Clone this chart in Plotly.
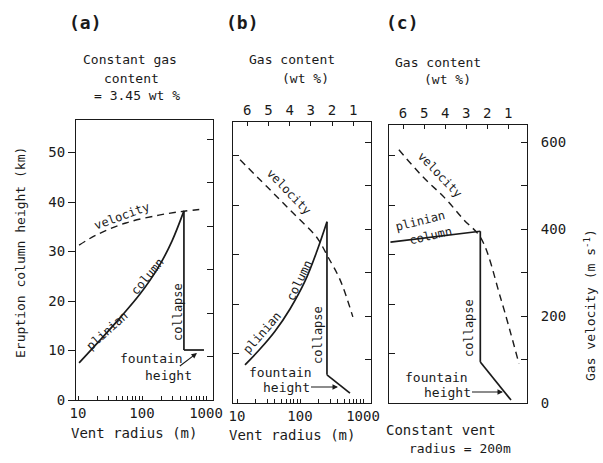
import plotly.graph_objects as go

W, H = 603, 463

# ---------------- data ----------------
# Panel (a): constant gas content 3.45 wt%
a_col_radius = [10.4, 22.1, 45.3, 93, 178, 294, 452]
a_col_height = [7.5, 12.1, 16.6, 21.4, 26.7, 32.1, 38.2]
a_collapse_radius = [452, 452]
a_collapse_height = [38.2, 10.1]
a_fount_radius = [452, 930]
a_fount_height = [10.1, 10.1]
a_vel_radius = [10.4, 19.1, 56, 184, 452, 930]
a_vel_value = [356, 379, 407, 425, 434, 439]

# Panel (b): gas content varies with vent radius
b_col_radius = [13.4, 23.2, 40.1, 69.4, 120, 186, 268]
b_col_height = [7.7, 10.9, 14.5, 19.0, 24.6, 30.7, 36.6]
b_collapse_radius = [268, 268]
b_collapse_height = [36.6, 5.7]
b_fount_radius = [268, 621]
b_fount_height = [5.7, 2.0]
b_vel_radius = [11.2, 30, 69, 173, 207, 278, 433, 690]
b_vel_value = [559, 497, 444, 386, 370, 336, 283, 198]

# Panel (c): constant vent radius 200 m
c_col_gas = [6.6, 2.33]
c_col_height = [32.5, 34.7]
c_collapse_gas = [2.33, 2.33]
c_collapse_height = [34.7, 8.3]
c_fount_gas = [2.33, 0.87]
c_fount_height = [8.3, 0.6]
c_vel_gas = [6.2, 5.06, 4.01, 3.11, 2.30, 1.35, 0.49]
c_vel_value = [582, 520, 471, 421, 379, 239, 90]

# ticks
radius_tickvals = [10, 20, 30, 40, 50, 60, 70, 80, 90, 100, 200, 300, 400, 500,
                   600, 700, 800, 900, 1000]
radius_ticktext = ["10"] + [""] * 8 + ["100"] + [""] * 8 + ["1000"]
height_ticks = [0, 10, 20, 30, 40, 50]
vel_ticks = [0, 100, 200, 300, 400, 500, 600]
vel_ticktext = ["0", "", "200", "", "400", "", "600"]
gas_ticks = [6, 5, 4, 3, 2, 1]

# ---------------- layout helpers ----------------
FONT = "DejaVu Sans Mono"
INK = "#1a1a1a"


def dom_x(x0, x1):
    return [x0 / W, x1 / W]


def dom_y(ybot, ytop):
    return [1 - ybot / H, 1 - ytop / H]


def P(x, y):
    return x / W, 1 - y / H


annotations = []


def ann(text, x, y, angle=0, size=13, **kw):
    px, py = P(x, y)
    d = dict(text=text, x=px, y=py, xref="paper", yref="paper",
             showarrow=False, textangle=angle, xanchor="center",
             yanchor="middle", font=dict(family=FONT, size=size, color=INK))
    d.update(kw)
    annotations.append(d)


def arrow_label(text, x_text, y_text, x_head, y_head, size=13):
    hx, hy = P(x_head, y_head)
    annotations.append(dict(text=text, x=hx, y=hy, xref="paper", yref="paper",
                            ax=x_text - x_head, ay=y_text - y_head,
                            showarrow=True, arrowhead=2, arrowsize=1,
                            arrowwidth=1.1, arrowcolor=INK,
                            font=dict(family=FONT, size=size, color=INK)))


solid = dict(color=INK, width=1.7)
dashed = dict(color=INK, width=1.4, dash="7px,5px")

fig = go.Figure()

# Panel a traces
fig.add_trace(go.Scatter(x=a_col_radius, y=a_col_height, mode="lines",
                         line=dict(shape="spline", **solid), xaxis="x", yaxis="y"))
fig.add_trace(go.Scatter(x=a_collapse_radius, y=a_collapse_height, mode="lines",
                         line=solid, xaxis="x", yaxis="y"))
fig.add_trace(go.Scatter(x=a_fount_radius, y=a_fount_height, mode="lines",
                         line=solid, xaxis="x", yaxis="y"))
fig.add_trace(go.Scatter(x=a_vel_radius, y=a_vel_value, mode="lines",
                         line=dict(shape="spline", **dashed), xaxis="x", yaxis="y2"))

# Panel b traces
fig.add_trace(go.Scatter(x=b_col_radius, y=b_col_height, mode="lines",
                         line=dict(shape="spline", **solid), xaxis="x2", yaxis="y3"))
fig.add_trace(go.Scatter(x=b_collapse_radius, y=b_collapse_height, mode="lines",
                         line=solid, xaxis="x2", yaxis="y3"))
fig.add_trace(go.Scatter(x=b_fount_radius, y=b_fount_height, mode="lines",
                         line=solid, xaxis="x2", yaxis="y3"))
fig.add_trace(go.Scatter(x=b_vel_radius, y=b_vel_value, mode="lines",
                         line=dict(shape="spline", **dashed), xaxis="x2", yaxis="y4"))
fig.add_trace(go.Scatter(x=[], y=[], xaxis="x3", yaxis="y3", showlegend=False))

# Panel c traces
fig.add_trace(go.Scatter(x=c_col_gas, y=c_col_height, mode="lines",
                         line=solid, xaxis="x4", yaxis="y5"))
fig.add_trace(go.Scatter(x=c_collapse_gas, y=c_collapse_height, mode="lines",
                         line=solid, xaxis="x4", yaxis="y5"))
fig.add_trace(go.Scatter(x=c_fount_gas, y=c_fount_height, mode="lines",
                         line=solid, xaxis="x4", yaxis="y5"))
fig.add_trace(go.Scatter(x=c_vel_gas, y=c_vel_value, mode="lines",
                         line=dict(shape="spline", **dashed), xaxis="x4", yaxis="y6"))

tickfont = dict(family=FONT, size=14, color=INK)
base = dict(showgrid=False, zeroline=False, showline=True, linecolor=INK,
            linewidth=1, tickcolor=INK, tickwidth=1, tickfont=tickfont,
            automargin=False)

# ---- panel a axes ----
xa = dict(base, domain=dom_x(76, 213), type="log",
          range=[1 + (76 - 78) / 64, 1 + (213 - 78) / 64],
          tickvals=radius_tickvals, ticktext=radius_ticktext,
          ticks="inside", ticklen=4, mirror=True, anchor="y")
ya = dict(base, domain=dom_y(400, 120), range=[0, 280 / 4.95],
          tickvals=height_ticks, ticks="outside", ticklen=7, anchor="x")
ya2 = dict(base, range=[0, 280 / 0.435], overlaying="y", anchor="x", side="right",
           tickvals=vel_ticks, ticks="inside", ticklen=6, showticklabels=False)

# ---- panel b axes ----
xb = dict(base, domain=dom_x(233, 371), type="log",
          range=[1 + (233 - 237) / 63, 1 + (371 - 237) / 63],
          tickvals=radius_tickvals, ticktext=radius_ticktext,
          ticks="inside", ticklen=4, anchor="y3")
xb_top = dict(base, range=[6.67, 0.16], overlaying="x2", anchor="y3", side="top",
              tickvals=gas_ticks, ticks="inside", ticklen=4)
yb = dict(base, domain=dom_y(403, 122), range=[0, 281 / 4.95], anchor="x2",
          tickvals=height_ticks[1:], ticks="inside", ticklen=6, showticklabels=False)
yb2 = dict(base, range=[0, 281 / 0.435], overlaying="y3", anchor="x2", side="right",
           tickvals=vel_ticks, ticks="inside", ticklen=6, showticklabels=False)

# ---- panel c axes ----
xc = dict(base, domain=dom_x(389, 527), range=[6.67, 0.11], anchor="y5", side="top",
          tickvals=gas_ticks, ticks="inside", ticklen=4, mirror=True)
yc = dict(base, domain=dom_y(403, 125), range=[0, 278 / 4.95], anchor="x4",
          tickvals=height_ticks[1:], ticks="inside", ticklen=6, showticklabels=False)
yc2 = dict(base, range=[0, 278 / 0.435], overlaying="y5", anchor="x4", side="right",
           tickvals=vel_ticks, ticktext=vel_ticktext, ticks="inside", ticklen=6,
           ticklabelstandoff=10)

# ---------------- text ----------------
ann("<b>(a)</b>", 85, 22, size=18)
ann("<b>(b)</b>", 242, 22, size=18)
ann("<b>(c)</b>", 402, 22, size=18)

ann("Constant gas", 130, 60, size=13)
ann("content", 131, 78, size=13)
ann("= 3.45 wt %", 137, 95, size=13)

ann("Gas content", 292, 60, size=13)
ann("(wt %)", 305, 78, size=13)
ann("Gas content", 438, 62, size=13)
ann("(wt %)", 448, 79, size=13)

ann("Eruption column height (km)", 20, 253, angle=-90, size=13)
ann("Gas velocity (m s<sup>-1</sup>)", 590, 305, angle=-90, size=13)

ann("Vent radius (m)", 134, 433, size=14)
ann("Vent radius (m)", 292, 435, size=14)
ann("Constant vent", 441, 430, size=14)
ann("radius = 200m", 460, 448, size=13)

# curve labels panel a
ann("velocity", 122, 216, angle=-20, size=12)
ann("plinian", 107, 331, angle=-42, size=12)
ann("column", 147, 277, angle=-50, size=12)
ann("collapse", 178, 312, angle=-90, size=12)
ann("fountain", 151, 358, size=13)
arrow_label("height", 168, 375, 197, 353)

# curve labels panel b
ann("velocity", 289, 192, angle=46, size=12)
ann("plinian", 262, 333, angle=-49, size=12)
ann("column", 299, 281, angle=-64, size=12)
ann("collapse", 318, 335, angle=-90, size=12)
ann("fountain", 280, 372, size=13)
arrow_label("height", 286, 387, 338, 387)

# curve labels panel c
ann("velocity", 440, 175, angle=46, size=12)
ann("plinian", 420, 221, angle=-14, size=12)
ann("column", 430, 236, angle=-13, size=12)
ann("collapse", 469, 328, angle=-90, size=12)
ann("fountain", 436, 377, size=13)
arrow_label("height", 447, 392, 503, 392)

fig.update_layout(
    template="none",
    width=W, height=H,
    margin=dict(l=0, r=0, t=0, b=0, autoexpand=False),
    paper_bgcolor="white", plot_bgcolor="white",
    showlegend=False,
    font=dict(family=FONT, color=INK),
    xaxis=xa, yaxis=ya, yaxis2=ya2,
    xaxis2=xb, xaxis3=xb_top, yaxis3=yb, yaxis4=yb2,
    xaxis4=xc, yaxis5=yc, yaxis6=yc2,
    annotations=annotations,
)

fig.write_html("out.html",
               config={"displayModeBar": False},
               post_script="document.body.style.margin='0';"
                           "document.body.style.overflow='hidden';")
